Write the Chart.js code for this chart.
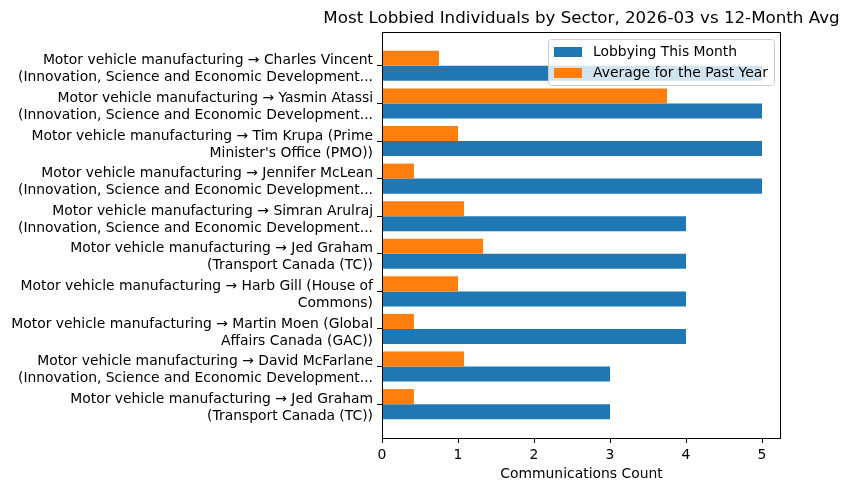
<!DOCTYPE html>
<html lang="en">
<head>
  <meta charset="UTF-8">
  <title>Most Lobbied Individuals by Sector</title>
  <script src="https://cdn.jsdelivr.net/npm/chart.js"></script>
  <style>
    body { margin: 0; background: #fff; }
    #wrap { width: 848px; height: 491px; }
  </style>
</head>
<body>
  <div id="wrap"><canvas id="chart" width="848" height="491"></canvas></div>
  <script>
    const categories = [
      "Motor vehicle manufacturing → Charles Vincent\n(Innovation, Science and Economic Development...",
      "Motor vehicle manufacturing → Yasmin Atassi\n(Innovation, Science and Economic Development...",
      "Motor vehicle manufacturing → Tim Krupa (Prime\nMinister's Office (PMO))",
      "Motor vehicle manufacturing → Jennifer McLean\n(Innovation, Science and Economic Development...",
      "Motor vehicle manufacturing → Simran Arulraj\n(Innovation, Science and Economic Development...",
      "Motor vehicle manufacturing → Jed Graham\n(Transport Canada (TC))",
      "Motor vehicle manufacturing → Harb Gill (House of\nCommons)",
      "Motor vehicle manufacturing → Martin Moen (Global\nAffairs Canada (GAC))",
      "Motor vehicle manufacturing → David McFarlane\n(Innovation, Science and Economic Development...",
      "Motor vehicle manufacturing → Jed Graham\n(Transport Canada (TC))"
    ];
    const thisMonth = [5, 5, 5, 5, 4, 4, 4, 4, 3, 3];
    const pastYearAvg = [0.75, 3.75, 1.0, 0.42, 1.08, 1.33, 1.0, 0.42, 1.08, 0.42];
    const xTicks = [0, 1, 2, 3, 4, 5];

    const FONT = "'DejaVu Sans', sans-serif";
    const BLUE = '#1f77b4';
    const ORANGE = '#ff7f0e';

    // matplotlib-style frame, title and legend drawn on top of the bars
    const decor = {
      id: 'decor',
      afterDraw(chart) {
        const { ctx, chartArea: a } = chart;
        ctx.save();
        ctx.strokeStyle = '#000';
        ctx.lineWidth = 1;
        ctx.strokeRect(a.left + 0.5, a.top + 0.5, a.right - a.left - 1, a.bottom - a.top);

        ctx.fillStyle = '#000';
        ctx.font = '16.7px ' + FONT;
        ctx.textAlign = 'center';
        ctx.textBaseline = 'middle';
        ctx.fillText('Most Lobbied Individuals by Sector, 2026-03 vs 12-Month Avg', (a.left + a.right) / 2, 18.5);

        // legend box
        const bx = a.right - 7 - 226, by = a.top + 7, bw = 226, bh = 46;
        ctx.beginPath();
        ctx.roundRect(bx + 0.5, by + 0.5, bw, bh, 3);
        ctx.fillStyle = 'rgba(255,255,255,0.8)';
        ctx.fill();
        ctx.strokeStyle = '#cccccc';
        ctx.stroke();
        const items = [['Lobbying This Month', BLUE], ['Average for the Past Year', ORANGE]];
        ctx.font = '13.9px ' + FONT;
        ctx.textAlign = 'left';
        items.forEach((it, i) => {
          const cy = by + 13 + i * 21;
          ctx.fillStyle = it[1];
          ctx.fillRect(bx + 6, cy - 5, 28, 10);
          ctx.fillStyle = '#000';
          ctx.fillText(it[0], bx + 45, cy);
        });
        ctx.restore();
      }
    };

    new Chart(document.getElementById('chart'), {
      type: 'bar',
      data: {
        datasets: [
          {
            label: 'Average for the Past Year',
            data: pastYearAvg.map((v, i) => ({ x: v, y: i })),
            backgroundColor: ORANGE
          },
          {
            label: 'Lobbying This Month',
            data: thisMonth.map((v, i) => ({ x: v, y: i })),
            backgroundColor: BLUE
          }
        ]
      },
      options: {
        indexAxis: 'y',
        responsive: false,
        animation: false,
        categoryPercentage: 0.8,
        barPercentage: 1,
        layout: { padding: { top: 32, right: 67, left: 0, bottom: 0 } },
        plugins: {
          legend: { display: false },
          tooltip: { enabled: false }
        },
        scales: {
          y: {
            type: 'linear',
            reverse: true,
            min: -0.9,
            max: 9.9,
            offset: false,
            grid: { offset: false, drawOnChartArea: false, drawTicks: true, tickLength: 5, color: '#000' },
            border: { display: false },
            ticks: {
              stepSize: 1,
              includeBounds: false,
              autoSkip: false,
              padding: 4,
              labelOffset: 3.5,
              color: '#000',
              font: { family: FONT, size: 13.9, lineHeight: 1.22 },
              callback: v => Number.isInteger(v) && categories[v] ? categories[v].split('\n') : ''
            },
            afterFit: s => { s.width = 382; }
          },
          x: {
            type: 'linear',
            min: 0,
            max: 5.25,
            grid: { drawOnChartArea: false, drawTicks: true, tickLength: 5, color: '#000' },
            border: { display: false },
            ticks: {
              stepSize: 1,
              includeBounds: false,
              padding: 4,
              color: '#000',
              font: { family: FONT, size: 13.9 },
              callback: v => xTicks.includes(v) ? String(v) : ''
            },
            title: {
              display: true,
              text: 'Communications Count',
              color: '#000',
              font: { family: FONT, size: 13.9 },
              padding: { top: 0, bottom: 8 }
            },
            afterFit: s => { s.height = 53; }
          }
        }
      },
      plugins: [decor]
    });
  </script>
</body>
</html>
